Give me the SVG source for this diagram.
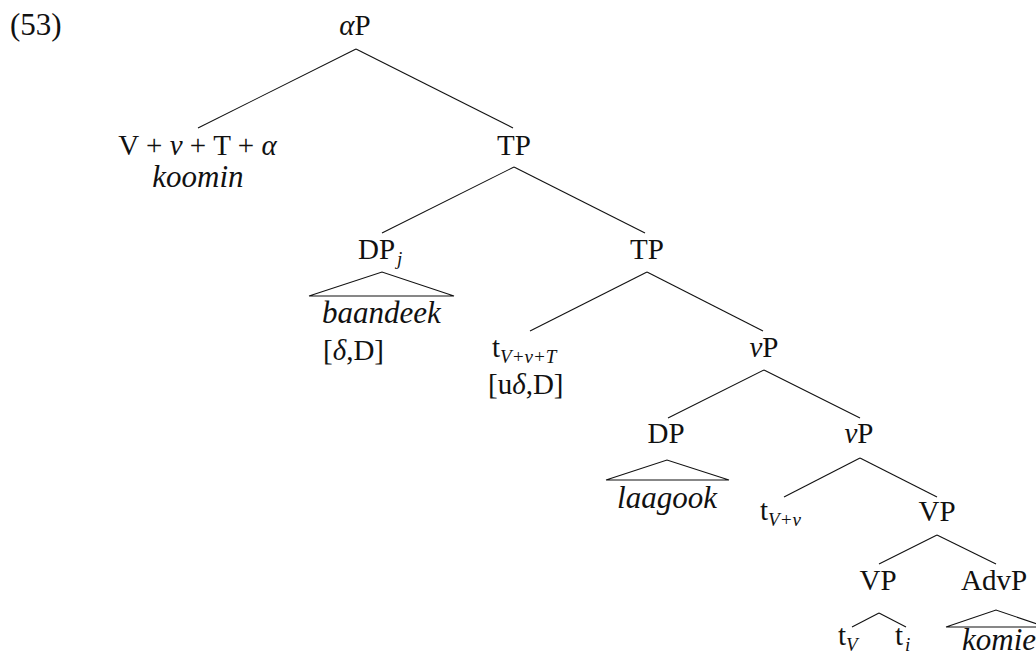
<svg xmlns="http://www.w3.org/2000/svg" width="1036" height="657" viewBox="0 0 1036 657">
<style>
text{font-family:"Liberation Serif","DejaVu Serif",serif;font-size:29px;fill:#111}
.i{font-style:italic}
.w{font-size:31px}
.s{font-size:19px;font-style:italic}
.c{text-anchor:middle}
#edges line,#edges polyline{stroke:#111;stroke-width:1.1;fill:none}
</style>
<rect width="1036" height="657" fill="#fff"/>
<text id="label" x="10" y="35" style="font-size:31px">(53)</text>
<g id="edges">
<line x1="356" y1="49" x2="198" y2="128"/>
<line x1="356" y1="49" x2="513" y2="128"/>
<line x1="514" y1="167" x2="382" y2="233"/>
<line x1="514" y1="167" x2="645" y2="233"/>
<polyline points="309,296 382,272 454,296 309,296"/>
<line x1="647" y1="272" x2="530" y2="331"/>
<line x1="647" y1="272" x2="763" y2="331"/>
<line x1="764" y1="370" x2="668" y2="418"/>
<line x1="764" y1="370" x2="860" y2="418"/>
<polyline points="606,480 667,460 729,480 606,480"/>
<line x1="860" y1="458" x2="784" y2="497"/>
<line x1="860" y1="458" x2="937" y2="497"/>
<line x1="937" y1="535" x2="879" y2="564"/>
<line x1="937" y1="535" x2="996" y2="564"/>
<line x1="879" y1="613" x2="852" y2="627"/>
<line x1="879" y1="613" x2="906" y2="627"/>
<polyline points="946,627 996,610 1046,627 946,627"/>
</g>
<g id="alphaP"><text class="c" x="355" y="35"><tspan class="i">α</tspan>P</text></g>
<g id="head"><text class="c" x="197.5" y="155">V + <tspan class="i">ν</tspan> + T + <tspan class="i">α</tspan></text>
<text class="c i w" x="198" y="187">koomin</text></g>
<g id="TP1"><text class="c" x="514" y="155">TP</text></g>
<g id="DPj"><text x="358" y="259">DP<tspan class="s" dx="2" dy="6">j</tspan></text>
<text class="i w" x="322" y="323">baandeek</text>
<text x="323" y="360">[<tspan class="i">δ</tspan>,D]</text></g>
<g id="TP2"><text class="c" x="647" y="259">TP</text></g>
<g id="tVvT"><text x="492" y="357">t<tspan class="s" dy="6">V+ν+T</tspan></text>
<text x="488" y="394">[u<tspan class="i">δ</tspan>,D]</text></g>
<g id="vP1"><text class="c" x="764" y="357"><tspan class="i">ν</tspan>P</text></g>
<g id="DP"><text class="c" x="666" y="443">DP</text>
<text class="c i w" x="667" y="508">laagook</text></g>
<g id="vP2"><text class="c" x="859" y="443"><tspan class="i">ν</tspan>P</text></g>
<g id="tVv"><text x="760" y="520">t<tspan class="s" dy="6">V+ν</tspan></text></g>
<g id="VP1"><text class="c" x="937" y="521">VP</text></g>
<g id="VP2"><text class="c" x="878" y="590">VP</text></g>
<g id="AdvP"><text class="c" x="994" y="590">AdvP</text>
<text class="i w" x="962" y="650">komie</text></g>
<g id="tV"><text x="838" y="645">t<tspan class="s" dy="6">V</tspan></text></g>
<g id="ti"><text x="895" y="645">t<tspan class="s" dx="2" dy="6">i</tspan></text></g>
</svg>
